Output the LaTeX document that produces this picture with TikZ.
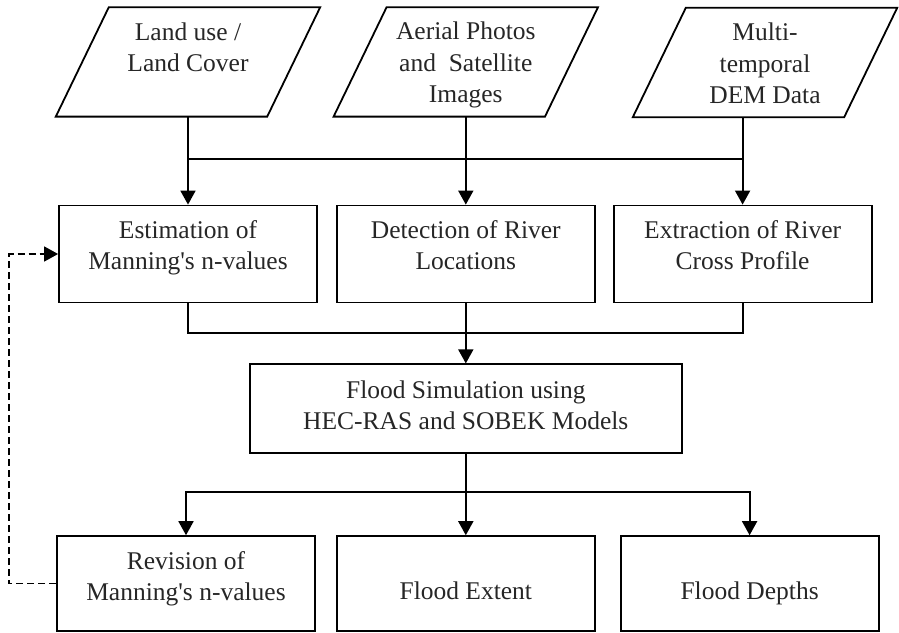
\documentclass[tikz,border=0pt]{standalone}
\usepackage{fontspec}
\setmainfont{Liberation Serif}[Ligatures=TeXOff]
\usetikzlibrary{
        arrows.meta,
        positioning
    }
\tikzset{>={Triangle[length=14pt,width=15pt]},node distance=18pt}
\tikzset{
    box/.style={draw,line width=1.8pt,minimum width=258pt,minimum height=97pt,
        align=center,inner sep=0pt,text height=40pt,text depth=9pt},
    data/.style={minimum width=211pt,minimum height=109pt,
        align=center,inner sep=0pt,text height=89pt,text depth=7pt},
    link/.style={line width=1.8pt},
    back/.style={line width=1.5pt,dash pattern=on 7pt off 4pt}
}

\begin{document}
\begin{tikzpicture}[x=1pt,y=-1pt,font=\fontsize{25.5}{31.5}\selectfont,text=black!85]
    \useasboundingbox (0,0) rectangle (899,632);
    % processing row
    \node[box] (est) at (188,254) {Estimation of\\Manning's n-values};
    \node[box] (det) [right=18pt of est] {Detection of River\\Locations};
    \node[box] (ext) [right=17pt of det] {Extraction of River\\Cross Profile};
    % input data
    \node[data,text height=27pt] (land) [above=88pt of est] {Land use /\\Land Cover};
    \node[data] (aerial) [above=88pt of det] {Aerial Photos\\and\ \ Satellite\\Images};
    \node[data] (dem) at (765,62.5) {Multi-\\temporal\\DEM Data};
    \foreach \n in {land,aerial,dem}
        \draw[link] ([xshift=-26.5pt]\n.south west) -- ([xshift=-26.5pt]\n.south east)
            -- ([xshift=26.5pt]\n.north east) -- ([xshift=26.5pt]\n.north west) -- cycle;
    % model and results
    \node[box,minimum width=432pt,minimum height=89pt,text height=49pt,text depth=7pt] (flood) [below=60pt of det]
        {Flood Simulation using\\HEC-RAS and SOBEK Models};
    \node[box,minimum height=95pt] (extent) [below=81pt of flood] {Flood Extent};
    \node[box,minimum height=95pt,text height=41pt,text depth=7pt] (rev) [left=20pt of extent] {Revision of\\Manning's n-values};
    \node[box,minimum height=95pt] (depth) [right=24pt of extent] {Flood Depths};
    \coordinate (split) at (0,159);
    \coordinate (join) at (0,333);
    \coordinate (fork) at (0,492);
    \draw[link,->] (est.north |- land.south) -- (est.north);
    \draw[link,->] (det.north |- aerial.south) -- (det.north);
    \draw[link,->] (ext.north |- dem.south) -- (ext.north);
    \draw[link] (est.north |- split) -- (ext.north |- split);
    \draw[link] (est.south) -- (est.south |- join) -- (ext.south |- join) -- (ext.south);
    \draw[link,->] (flood.north |- det.south) -- (flood.north);
    \draw[link,->] (flood.south) -- (extent.north);
    \draw[link,->] (flood.south |- fork) -| (rev.north);
    \draw[link,->] (flood.south |- fork) -| (depth.north);
    \draw[back,->] (rev.west) -- ++(-47,0) |- (est.west);
\end{tikzpicture}
\end{document}
